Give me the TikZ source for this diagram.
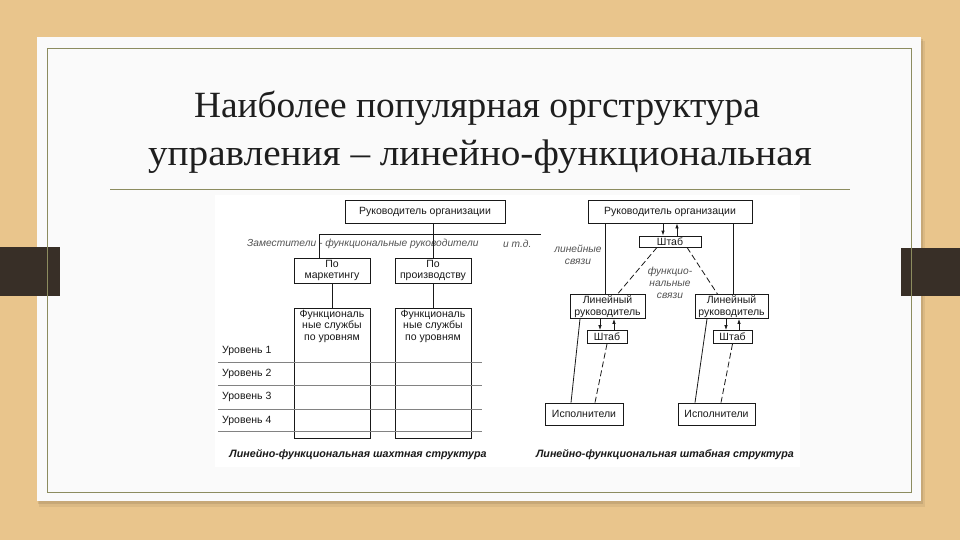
\documentclass[tikz,border=0pt]{standalone}
\usepackage{fontspec}
\setmainfont{Liberation Serif}
\newfontfamily\dsans{Liberation Sans}
\usetikzlibrary{arrows.meta}
\definecolor{wood}{RGB}{233,197,140}
\definecolor{card}{RGB}{250,250,250}
\definecolor{olive}{RGB}{140,140,95}
\definecolor{tab}{RGB}{56,47,39}
\definecolor{ttl}{RGB}{30,30,30}
\definecolor{ink}{RGB}{25,25,25}
\definecolor{lvl}{RGB}{130,130,130}
\begin{document}
\begin{tikzpicture}[x=1pt,y=-1pt,
  box/.style={draw=ink, line width=0.8pt, fill=white, inner sep=0pt, align=center,
    font=\dsans\fontsize{10.5}{11.5}\selectfont, text=ink},
  lbl/.style={inner sep=0pt, align=center, font=\dsans\fontsize{10.5}{11.5}\selectfont, text=ink},
  ilbl/.style={inner sep=0pt, align=center, font=\dsans\itshape\fontsize{10.2}{12}\selectfont, text=ink!75},
  captxt/.style={inner sep=0pt, font=\dsans\bfseries\itshape\fontsize{10.7}{12}\selectfont, text=ink},
  link/.style={draw=ink, line width=0.8pt},
  flink/.style={draw=ink, line width=0.8pt, dash pattern=on 6pt off 3pt},
  arr/.style={draw=ink, line width=0.8pt, -{Latex[length=5pt,width=3.5pt]}},
  ttlfont/.style={inner sep=0pt, anchor=base, text=ttl, font=\fontsize{37}{42}\selectfont}
]
\useasboundingbox (0,0) rectangle (960,540);
% background
\fill[wood] (0,0) rectangle (960,540);
\fill[black,opacity=0.06] (39,41) rectangle (925,507);
\fill[black,opacity=0.09] (38,39) rectangle (923,504);
\fill[card] (37,37) rectangle (921,501);
% tabs
\fill[tab] (0,247) rectangle (60,296);
\fill[tab] (901,248) rectangle (960,296);
% inner frame
\draw[olive, line width=0.8pt] (47,48) rectangle (911,492);
% title
\node[ttlfont] (t1) at (477,118) {\scalebox{1.01}[1]{Наиболее популярная оргструктура}};
\node[ttlfont] (t2) at (480,166) {\scalebox{1.06}[1]{управления – линейно-функциональная}};
\draw[olive, line width=0.8pt] (110,189) -- (850,189);
% picture area
\fill[white] (215,195) rectangle (800,467);

% ---------- left diagram ----------
\node[box, minimum width=160pt, minimum height=23pt] (LTop) at (425,211.5) {Руководитель организации};
\coordinate (barL) at (319,234);
\coordinate (barR) at (541,234);
\node[ilbl, anchor=west] (Lzam) at (247,244) {Заместители - функциональные руководители};
\node[ilbl, anchor=west] (Letc) at (503,244) {и т.д.};
\node[box, minimum width=76pt, minimum height=25pt] (LMk) at (332,270.5) {По\\маркетингу};
\node[box, minimum width=76pt, minimum height=25pt] (LPr) at (433,270.5) {По\\производству};
\node[box, minimum width=76pt, minimum height=130pt] (LF1) at (332,373) {};
\node[box, minimum width=76pt, minimum height=130pt] (LF2) at (433,373) {};
\node[lbl, anchor=north] (LF1t) at (332,310) {Функциональ\\ные службы\\по уровням};
\node[lbl, anchor=north] (LF2t) at (433,310) {Функциональ\\ные службы\\по уровням};
\draw[link] (barL) -- (barR);
\draw[link] (LTop.south -| LPr.north) -- (LPr.north);
\draw[link] (barL) -- (barL |- LMk.north);
\draw[link] (LMk.south) -- (LF1.north);
\draw[link] (LPr.south) -- (LF2.north);
% levels
\foreach \yy in {362,385,409,431} \draw[lvl, line width=0.9pt] (218,\yy) -- (482,\yy);
\node[lbl, anchor=west] (Lv1) at (222,351) {Уровень 1};
\node[lbl, anchor=west] (Lv2) at (222,374) {Уровень 2};
\node[lbl, anchor=west] (Lv3) at (222,397) {Уровень 3};
\node[lbl, anchor=west] (Lv4) at (222,421) {Уровень 4};
\node[captxt] (Lcap) at (358,455) {Линейно-функциональная шахтная структура};

% ---------- right diagram ----------
\node[box, minimum width=164pt, minimum height=23pt] (RTop) at (670,211.5) {Руководитель организации};
\node[box, minimum width=62pt, minimum height=11pt] (RSh) at (670,241.5) {Штаб};
\node[box, minimum width=75pt, minimum height=24pt] (RL1) at (607.5,306.5) {Линейный\\руководитель};
\node[box, minimum width=73pt, minimum height=24pt] (RL2) at (731.5,306.5) {Линейный\\руководитель};
\node[box, minimum width=40pt, minimum height=13pt] (RS1) at (607,337) {Штаб};
\node[box, minimum width=39pt, minimum height=13pt] (RS2) at (732.5,337) {Штаб};
\node[box, minimum width=78pt, minimum height=22pt] (RE1) at (584,414) {Исполнители};
\node[box, minimum width=77pt, minimum height=22pt] (RE2) at (716.5,414) {Исполнители};
\node[ilbl] (Rlin) at (578,255) {линейные\\связи};
\node[ilbl] (Rfun) at (670,282.5) {функцио-\\нальные\\связи};
% lines
\draw[link] ([xshift=-65pt]RTop.south) -- ([xshift=-65pt]RTop.south |- RL1.north);
\draw[link] ([xshift=63pt]RTop.south) -- ([xshift=63pt]RTop.south |- RL2.north);
\draw[arr] ([xshift=-7pt]RTop.south) -- ([xshift=-7pt]RSh.north);
\draw[arr] ([xshift=7pt]RSh.north) -- ([xshift=7pt]RTop.south);
\draw[flink] ([xshift=-13pt]RSh.south) -- ([xshift=10pt]RL1.north);
\draw[flink] ([xshift=17pt]RSh.south) -- ([xshift=-14pt]RL2.north);
\draw[arr] ([xshift=-7pt]RL1.south -| RS1.north) -- ([xshift=-7pt]RS1.north);
\draw[arr] ([xshift=7pt]RS1.north) -- ([xshift=7pt]RS1.north |- RL1.south);
\draw[arr] ([xshift=-6.5pt]RL2.south -| RS2.north) -- ([xshift=-6.5pt]RS2.north);
\draw[arr] ([xshift=6.5pt]RS2.north) -- ([xshift=6.5pt]RS2.north |- RL2.south);
\draw[link] ([xshift=-27.5pt]RL1.south) -- ([xshift=-13pt]RE1.north);
\draw[flink] (RS1.south) -- ([xshift=11pt]RE1.north);
\draw[link] ([xshift=-24.5pt]RL2.south) -- ([xshift=-21.5pt]RE2.north);
\draw[flink] (RS2.south) -- ([xshift=4.5pt]RE2.north);
\node[captxt] (Rcap) at (665,455) {Линейно-функциональная штабная структура};
\end{tikzpicture}
\end{document}
